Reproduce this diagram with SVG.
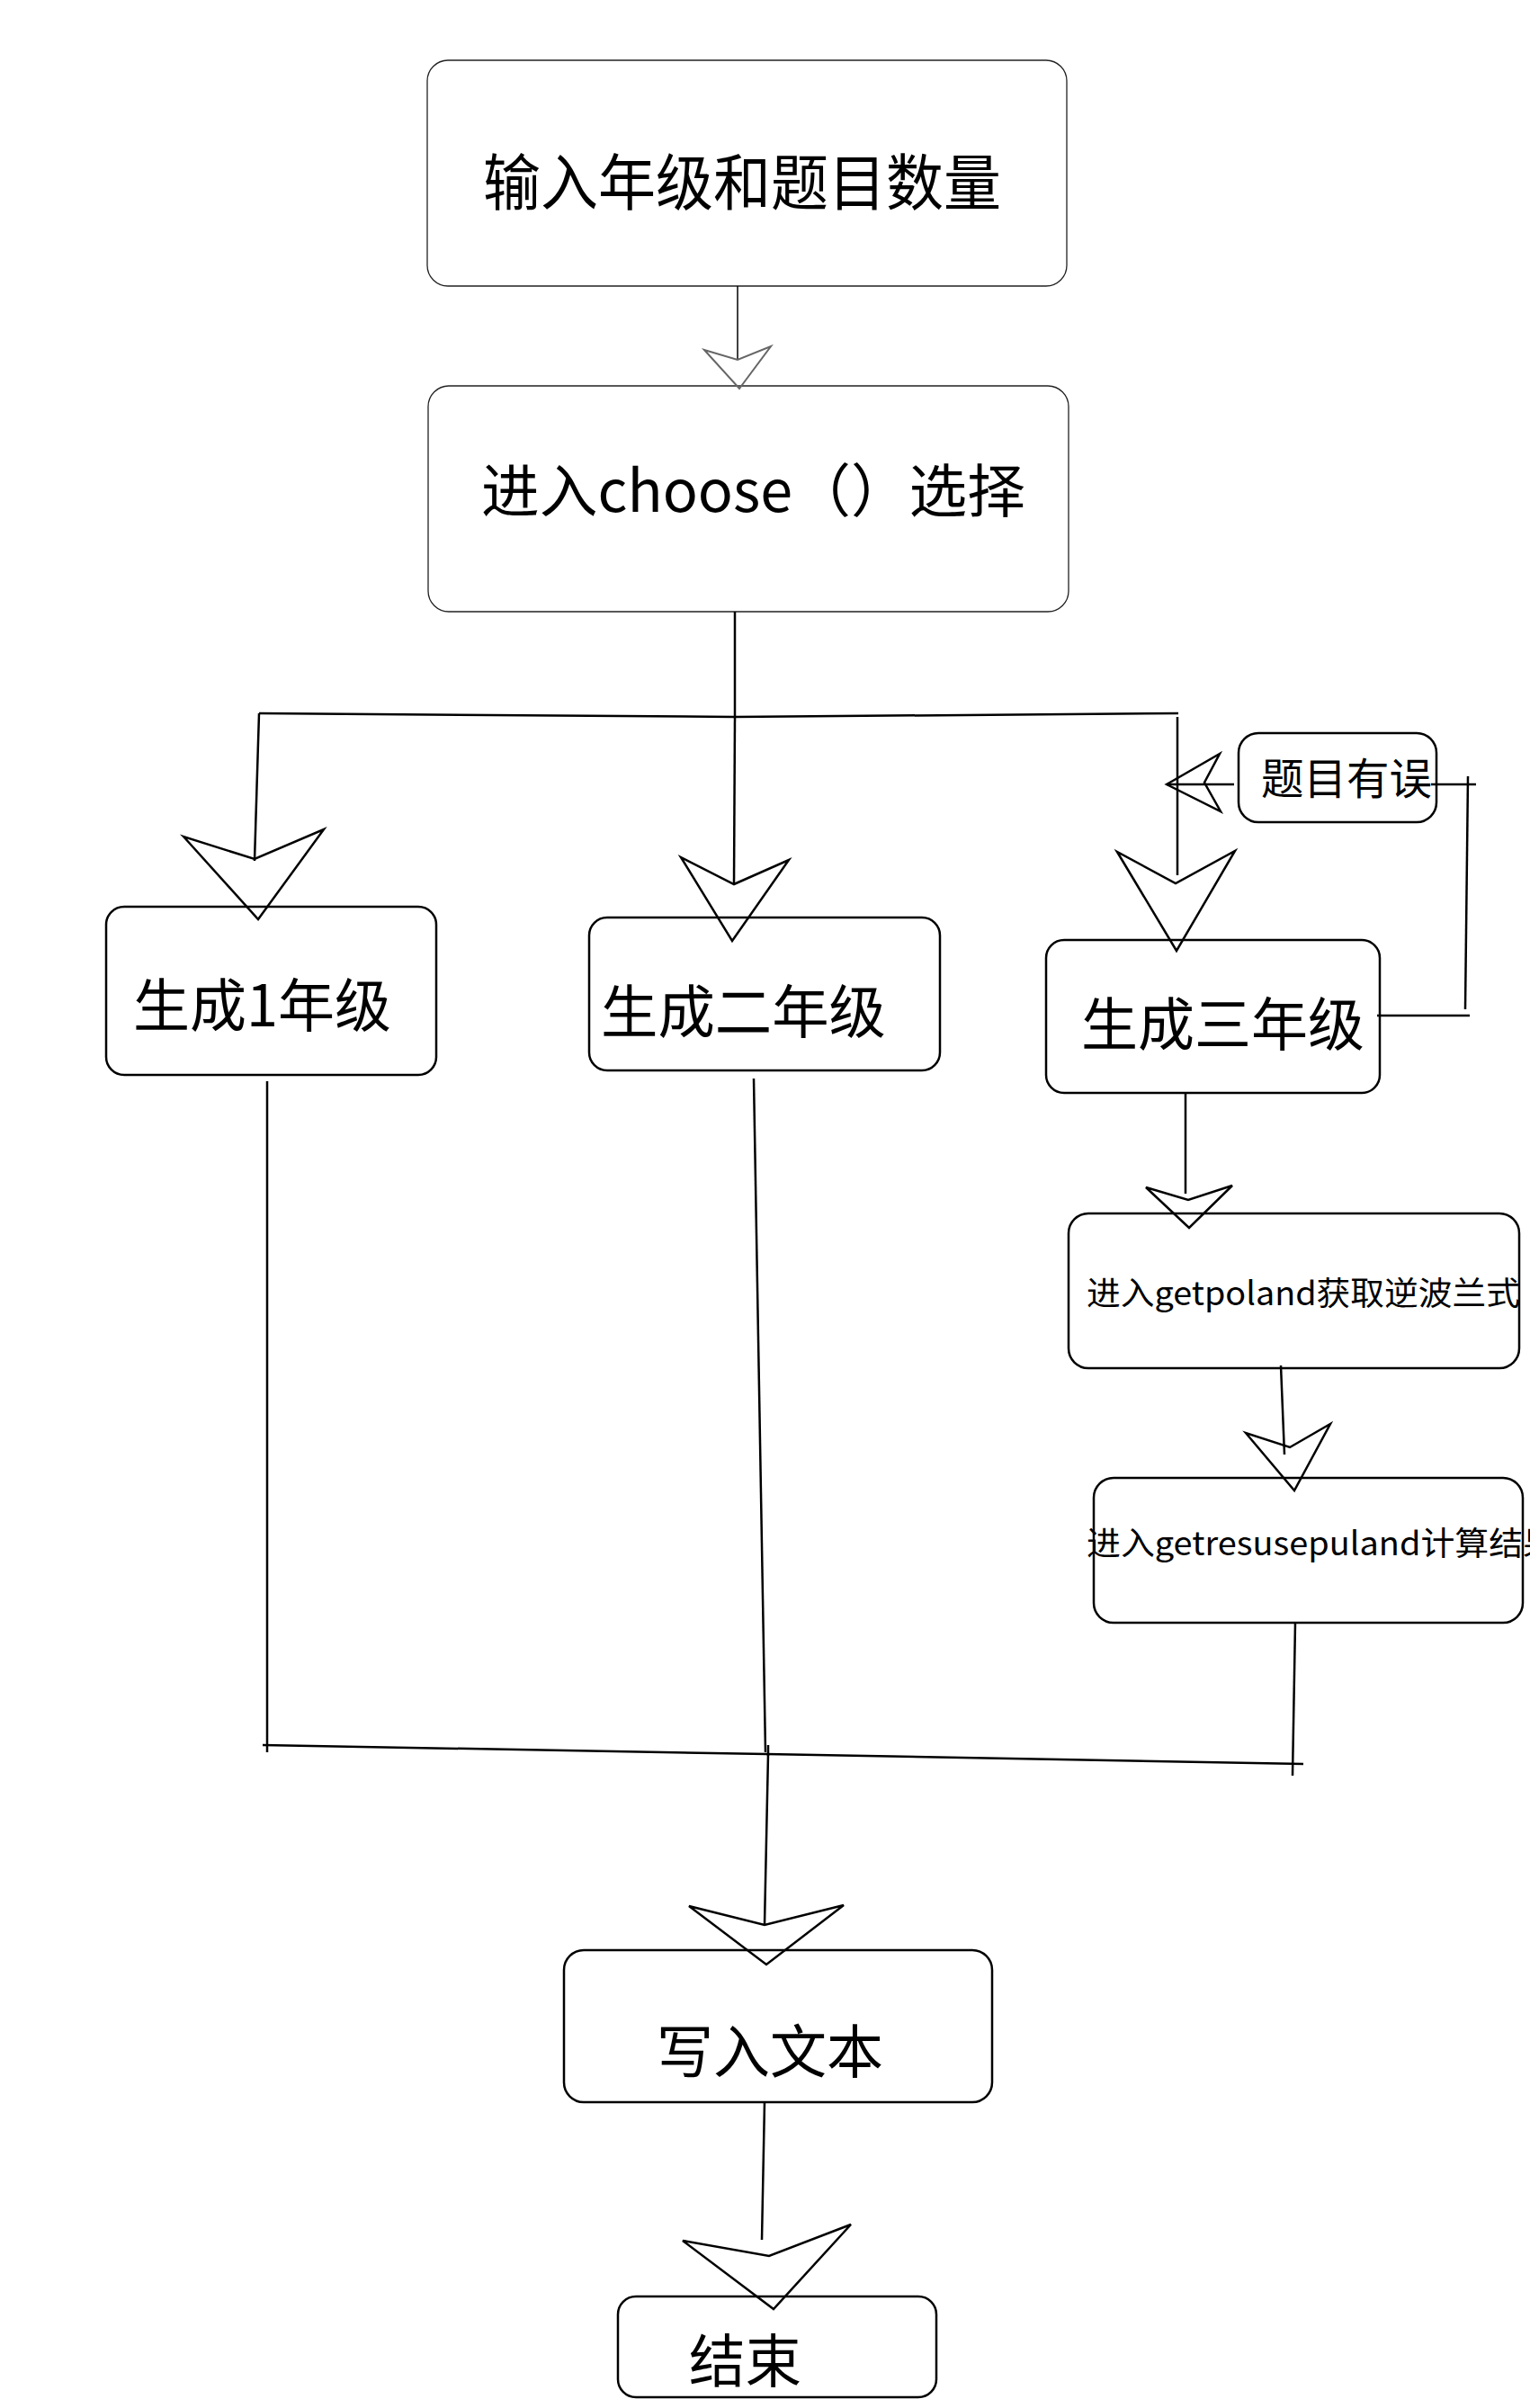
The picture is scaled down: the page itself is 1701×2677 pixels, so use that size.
<svg xmlns="http://www.w3.org/2000/svg" width="1701" height="2677" viewBox="0 0 1701 2677">
<style>
.bg{fill:#fff}
.box{fill:#fff;stroke:#000;stroke-width:2.5}
.thin{fill:#fff;stroke:#222;stroke-width:1.3}
.t{font-family:"Noto Sans CJK SC","Noto Sans",sans-serif;fill:#000;dominant-baseline:central}
.ln{fill:none;stroke:#000;stroke-width:2.5;stroke-linecap:butt}
.ln1{fill:none;stroke:#000;stroke-width:1.5}
.ah{fill:none;stroke:#000;stroke-width:2.5;stroke-linejoin:miter}
.ahg{fill:none;stroke:#666;stroke-width:2;stroke-linejoin:miter}
</style>
<rect class="bg" x="0" y="0" width="1701" height="2677"/>
<g id="n1"><rect class="thin" x="475" y="67" width="711" height="251" rx="23"/><text class="t" x="537" y="198" font-size="68" textLength="576" lengthAdjust="spacingAndGlyphs">输入年级和题目数量</text></g>
<g id="n2"><rect class="thin" x="476" y="429" width="712" height="251" rx="23"/><text class="t" x="535" y="541" font-size="64" textLength="605" lengthAdjust="spacingAndGlyphs">进入choose（）选择</text></g>
<g id="n3"><rect class="box" x="118" y="1008" width="367" height="187" rx="20"/><text class="t" x="148" y="1113" font-size="64" textLength="287" lengthAdjust="spacingAndGlyphs">生成1年级</text></g>
<g id="n4"><rect class="box" x="655" y="1020" width="390" height="170" rx="20"/><text class="t" x="668" y="1120" font-size="64" textLength="317" lengthAdjust="spacingAndGlyphs">生成二年级</text></g>
<g id="n5"><rect class="box" x="1163" y="1045" width="371" height="170" rx="20"/><text class="t" x="1202" y="1134" font-size="64" textLength="315" lengthAdjust="spacingAndGlyphs">生成三年级</text></g>
<g id="n6"><rect class="box" x="1377" y="815" width="220" height="99" rx="22"/><text class="t" x="1402" y="862" font-size="48" textLength="190" lengthAdjust="spacingAndGlyphs">题目有误</text></g>
<g id="n7"><rect class="box" x="1188" y="1349" width="501" height="172" rx="22"/><text class="t" x="1208" y="1435" font-size="36" textLength="482" lengthAdjust="spacingAndGlyphs">进入getpoland获取逆波兰式</text></g>
<g id="n8"><rect class="box" x="1216" y="1643" width="477" height="161" rx="22"/><text class="t" x="1208" y="1713" font-size="36" textLength="523" lengthAdjust="spacingAndGlyphs">进入getresusepuland计算结果</text></g>
<g id="n9"><rect class="box" x="627" y="2168" width="476" height="169" rx="22"/><text class="t" x="730" y="2276" font-size="64" textLength="252" lengthAdjust="spacingAndGlyphs">写入文本</text></g>
<g id="n10"><rect class="box" x="687" y="2553" width="354" height="112" rx="20"/><text class="t" x="766" y="2620" font-size="64" textLength="125" lengthAdjust="spacingAndGlyphs">结束</text></g>
<g id="connectors">
<path class="ln1" d="M820,318 L820,400"/>
<path class="ahg" d="M783,389 L822,432 L857,385 L820,400 Z"/>
<path class="ln" d="M817,680 L817,797"/>
<path class="ln" d="M288,793 L817,797 L1310,793"/>
<path class="ln" d="M288,793 L283,957"/>
<path class="ah" d="M204,930 L287,1022 L360,922 L283,955 Z"/>
<path class="ln" d="M817,797 L816,982"/>
<path class="ah" d="M757,953 L814,1046 L877,956 L816,983 Z"/>
<path class="ln" d="M1309,797 L1309,973"/>
<path class="ah" d="M1242,947 L1308,1057 L1373,946 L1307,982 Z"/>
<path class="ln" d="M1531,1129 L1634,1129"/>
<path class="ln" d="M1629,1122 L1632,863"/>
<path class="ln" d="M1591,872 L1641,872"/>
<path class="ln" d="M1372,872 L1297,872"/>
<path class="ah" d="M1297,872 L1356,838 L1339,870 L1357,902 Z"/>
<path class="ln" d="M1318,1215 L1318,1327"/>
<path class="ah" d="M1274,1320 L1322,1365 L1370,1318 L1321,1334 Z"/>
<path class="ln" d="M1424,1518 L1428,1617"/>
<path class="ah" d="M1385,1593 L1439,1657 L1479,1583 L1434,1609 Z"/>
<path class="ln" d="M1440,1804 L1437,1974"/>
<path class="ln" d="M297,1202 L297,1948"/>
<path class="ln" d="M838,1199 L851,1948"/>
<path class="ln" d="M854,1940 L854,1952"/>
<path class="ln" d="M292,1940 L852,1950 L1449,1961"/>
<path class="ln" d="M854,1950 L850,2140"/>
<path class="ah" d="M766,2119 L852,2184 L938,2118 L850,2140 Z"/>
<path class="ln" d="M850,2337 L847,2490"/>
<path class="ah" d="M759,2491 L860,2567 L946,2473 L855,2508 Z"/>
</g>
</svg>
